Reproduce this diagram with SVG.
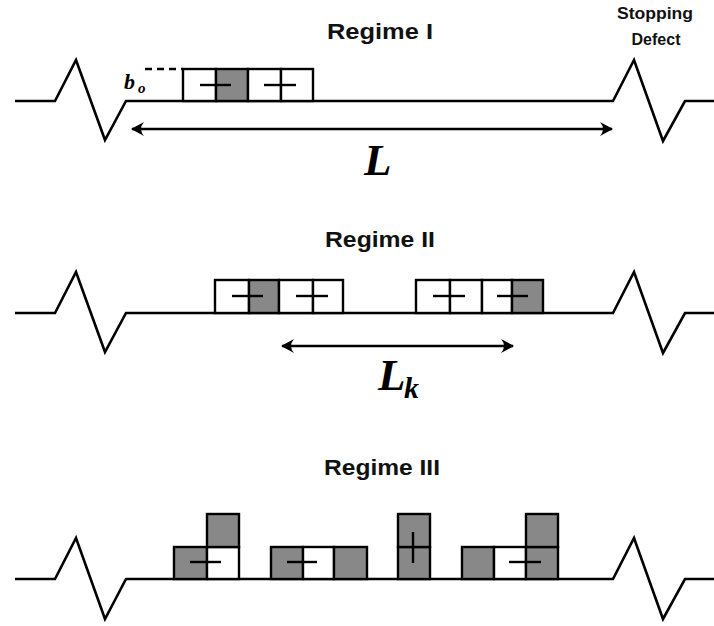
<svg xmlns="http://www.w3.org/2000/svg" width="714" height="626" viewBox="0 0 714 626">
<style>
.track{fill:none;stroke:#000;stroke-width:2.6;stroke-linejoin:miter}
.w{fill:#fff;stroke:#000;stroke-width:2.4}
.g{fill:#888;stroke:#000;stroke-width:2.4}
.tick{stroke:#000;stroke-width:2.4;fill:none}
.title{font-family:"Liberation Sans",Arial,sans-serif;font-weight:bold;font-size:22px;fill:#111}
.small{font-family:"Liberation Sans",Arial,sans-serif;font-weight:bold;font-size:16px;fill:#111;text-anchor:middle}
.math{font-family:"Liberation Serif","Times New Roman",serif;font-weight:bold;font-style:italic;fill:#000}
.arrow{stroke:#000;stroke-width:2.4;fill:none;marker-start:url(#ah);marker-end:url(#ah)}
</style>
<defs>
<marker id="ah" viewBox="0 0 14 16" refX="13" refY="8" markerWidth="14" markerHeight="16" markerUnits="userSpaceOnUse" orient="auto-start-reverse">
<path d="M14,8 L1,1 Q7,8 1,15 Z" fill="#000"/>
</marker>
</defs>

<!-- Titles -->
<g id="title-regime1"><text class="title" x="380" y="39" text-anchor="middle" textLength="106" lengthAdjust="spacingAndGlyphs">Regime I</text></g>
<g id="title-regime2"><text class="title" x="380" y="247" text-anchor="middle" textLength="110" lengthAdjust="spacingAndGlyphs">Regime II</text></g>
<g id="title-regime3"><text class="title" x="382" y="475" text-anchor="middle" textLength="116" lengthAdjust="spacingAndGlyphs">Regime III</text></g>
<g id="label-stopping-defect">
<text class="small" x="655" y="19" textLength="76" lengthAdjust="spacingAndGlyphs">Stopping</text>
<text class="small" x="656" y="45">Defect</text>
</g>

<!-- Regime I -->
<g id="track1"><polyline class="track" points="15,101 55,101 76,60 105,140 126,101 613,101 634,60 663,141 685,101 714,101"/></g>
<g id="b0-label">
<line x1="145" y1="69" x2="183" y2="69" stroke="#000" stroke-width="2.4" stroke-dasharray="7,5"/>
<text class="math" x="124" y="89" font-size="22">b</text>
<text class="math" x="138" y="93" font-size="15">o</text>
</g>
<g id="r1-dislocation1">
<rect class="w" x="183" y="69" width="33" height="32"/>
<rect class="g" x="216" y="69" width="32" height="32"/>
<line class="tick" x1="200" y1="85" x2="231" y2="85"/>
</g>
<g id="r1-dislocation2">
<rect class="w" x="248" y="69" width="33" height="32"/>
<rect class="w" x="281" y="69" width="32" height="32"/>
<line class="tick" x1="264" y1="85" x2="296" y2="85"/>
</g>

<!-- Regime II -->
<g id="track2"><polyline class="track" points="15,313 55,313 76,272 105,352 126,313 613,313 634,272 663,353 685,313 714,313"/></g>
<g id="r2-dislocation1">
<rect class="w" x="215" y="280" width="34" height="33"/>
<rect class="g" x="249" y="280" width="30" height="33"/>
<line class="tick" x1="232" y1="296" x2="263" y2="296"/>
</g>
<g id="r2-dislocation2">
<rect class="w" x="279" y="280" width="34" height="33"/>
<rect class="w" x="313" y="280" width="30" height="33"/>
<line class="tick" x1="296" y1="296" x2="328" y2="296"/>
</g>
<g id="r2-dislocation3">
<rect class="w" x="416" y="280" width="34" height="33"/>
<rect class="w" x="450" y="280" width="32" height="33"/>
<line class="tick" x1="433" y1="296" x2="465" y2="296"/>
</g>
<g id="r2-dislocation4">
<rect class="w" x="482" y="280" width="30" height="33"/>
<rect class="g" x="512" y="280" width="31" height="33"/>
<line class="tick" x1="497" y1="296" x2="528" y2="296"/>
</g>

<!-- Regime III -->
<g id="track3"><polyline class="track" points="15,579 55,579 76,538 105,619 126,579 613,579 634,538 663,619 685,579 714,579"/></g>
<g id="r3-group1">
<rect class="g" x="174" y="547" width="33" height="32"/>
<rect class="w" x="207" y="547" width="32" height="32"/>
<rect class="g" x="207" y="514" width="32" height="33"/>
<line class="tick" x1="190" y1="562" x2="221" y2="562"/>
</g>
<g id="r3-group2">
<rect class="g" x="271" y="547" width="32" height="32"/>
<rect class="w" x="303" y="547" width="31" height="32"/>
<rect class="g" x="334" y="547" width="33" height="32"/>
<line class="tick" x1="287" y1="562" x2="317" y2="562"/>
</g>
<g id="r3-group3">
<rect class="g" x="398" y="547" width="32" height="32"/>
<rect class="g" x="398" y="514" width="32" height="33"/>
<line class="tick" x1="413" y1="532" x2="413" y2="563"/>
</g>
<g id="r3-group4">
<rect class="g" x="462" y="547" width="32" height="32"/>
<rect class="w" x="494" y="547" width="32" height="32"/>
<rect class="g" x="526" y="547" width="32" height="32"/>
<rect class="g" x="526" y="514" width="32" height="33"/>
<line class="tick" x1="509" y1="562" x2="541" y2="562"/>
</g>

<!-- Connectors -->
<g id="connectors">
<line id="arrow-L" class="arrow" x1="132" y1="129" x2="612" y2="129"/>
<line id="arrow-Lk" class="arrow" x1="282" y1="346" x2="513" y2="346"/>
</g>
<g id="label-L"><text class="math" x="364" y="175" font-size="45">L</text></g>
<g id="label-Lk">
<text class="math" x="378" y="390" font-size="45">L</text>
<text class="math" x="404" y="398" font-size="30">k</text>
</g>
</svg>
